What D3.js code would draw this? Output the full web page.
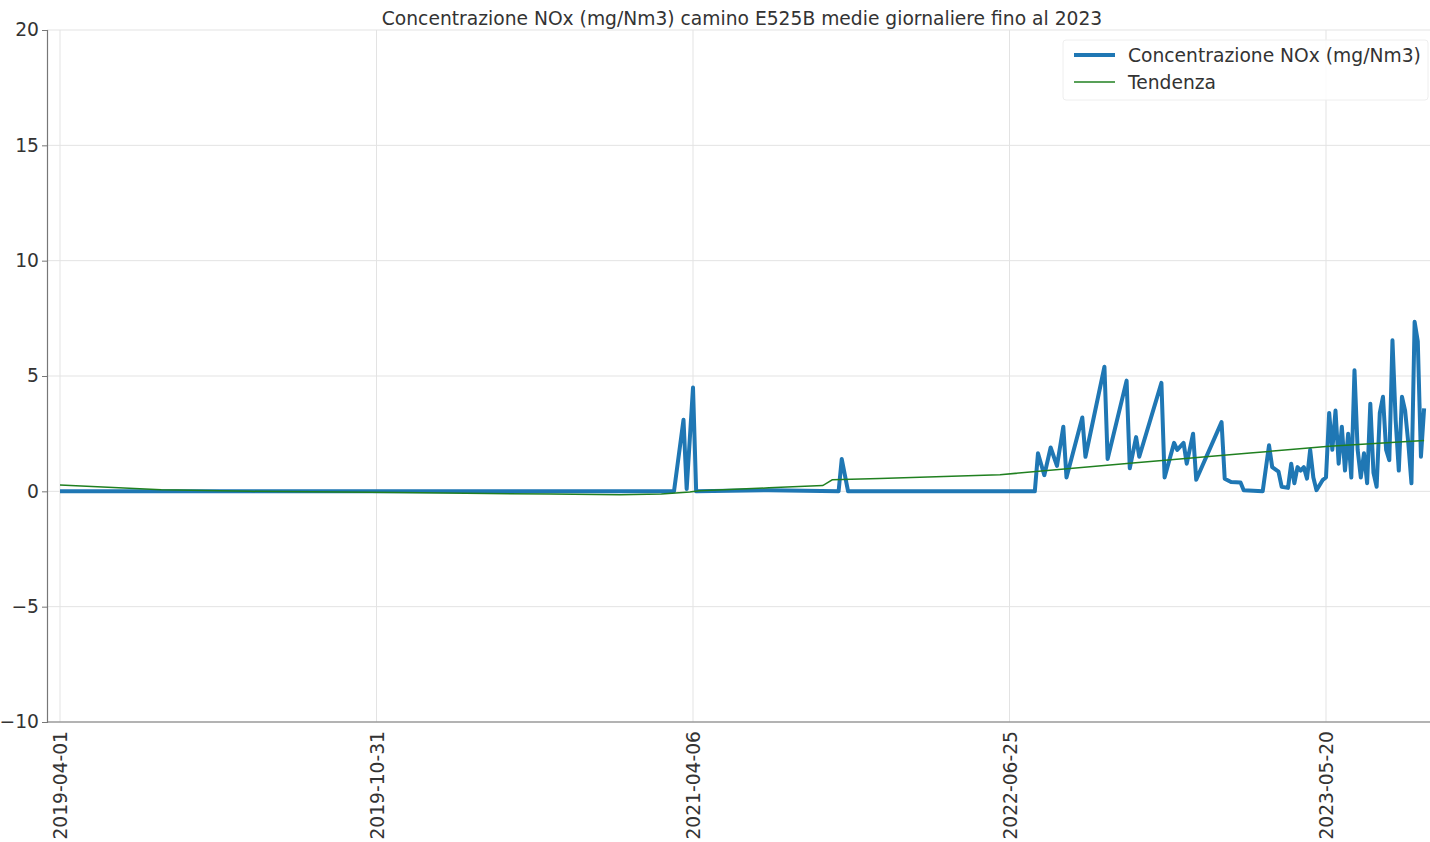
<!DOCTYPE html>
<html><head><meta charset="utf-8">
<script src="https://cdn.jsdelivr.net/npm/d3@7"></script>
<style>body{margin:0;background:#fff;} svg{display:block;font-family:"DejaVu Sans",sans-serif;}</style>
</head><body>
<svg id="c" width="1430" height="842"></svg>
<script>
// x positions are sample indices (one per daily record); labels every 100 records
const tickIdx = [0, 100, 200, 300, 400];
const tickLabels = ["2019-04-01", "2019-10-31", "2021-04-06", "2022-06-25", "2023-05-20"];
const yTicks = [-10, -5, 0, 5, 10, 15, 20];

// NOx series (index, value) vertices
const noxIdx = [0,194,197,198,200,201,224,246,247,249,308,309,311,313,315,317,318,323,324,330,331,337,338,340,341,348,349,352,353,355,356,358,359,367,368,370,373,374,380,382,383,385,386,388,389,390,391,392,393,394,395,396,397,399,400,401,402,403,404,405,406,407,408,409,410,411,412,413,414,415,416,417,418,419,420,421,422,423,424,425,426,427,428,429,430,431];
const noxVal = [0,0,3.1,0.1,4.5,0,0.05,0,1.4,0,0,1.65,0.7,1.9,1.1,2.8,0.6,3.2,1.5,5.4,1.4,4.8,1.0,2.35,1.5,4.7,0.6,2.1,1.8,2.1,1.2,2.5,0.5,3.0,0.55,0.4,0.38,0.05,0,2.0,1.05,0.85,0.2,0.15,1.2,0.35,1.05,0.9,1.05,0.55,1.8,0.6,0.05,0.5,0.6,3.4,1.8,3.5,1.2,2.8,0.9,2.5,0.6,5.25,1.8,0.6,1.65,0.35,3.8,0.8,0.2,3.4,4.1,1.8,1.35,6.55,3.1,0.9,4.1,3.5,2.1,0.35,7.35,6.5,1.5,3.6];

// Trend series
const trendIdx = [0,32,60,107,155,177,190,199,202,224,241,244,259,297,338,376,401,431];
const trendVal = [0.27,0.07,0.0,-0.05,-0.12,-0.15,-0.12,-0.03,0.03,0.15,0.25,0.5,0.56,0.72,1.22,1.66,1.95,2.2];

const titleText = "Concentrazione NOx (mg/Nm3) camino E525B medie giornaliere fino al 2023";
const seriesNames = ["Concentrazione NOx (mg/Nm3)", "Tendenza"];

const FS = 18.7;
const svg = d3.select("#c");
const L = 47, R = 1440, T = 30, B = 722;
const x = d3.scaleLinear().domain([0, 400]).range([60, 1326]);
const y = d3.scaleLinear().domain([-10, 20]).range([B, T]);

// grid
svg.append("g").selectAll("line").data(yTicks).join("line")
  .attr("x1", L).attr("x2", R).attr("y1", d => y(d)).attr("y2", d => y(d))
  .attr("stroke", "#e3e3e3").attr("stroke-width", 1);
svg.append("g").selectAll("line").data(tickIdx).join("line")
  .attr("x1", d => x(d)).attr("x2", d => x(d)).attr("y1", T).attr("y2", B)
  .attr("stroke", "#e3e3e3").attr("stroke-width", 1);

// axes
const yAxis = d3.axisLeft(y).tickValues(yTicks).tickSize(5).tickPadding(3)
  .tickFormat(d => d < 0 ? "\u2212" + Math.abs(d) : d);
const gy = svg.append("g").attr("transform", `translate(${L},0)`).call(yAxis);
gy.select(".domain").attr("stroke", "#777").attr("stroke-width", 1.2);
gy.selectAll(".tick line").attr("stroke", "#777");
gy.selectAll("text").attr("font-size", FS).attr("fill", "#333").attr("font-family", "DejaVu Sans");

svg.append("line").attr("x1", L).attr("x2", R).attr("y1", B).attr("y2", B)
  .attr("stroke", "#777").attr("stroke-width", 1.2);

const xAxis = d3.axisBottom(x).tickValues(tickIdx).tickSize(0).tickPadding(0)
  .tickFormat((d, i) => tickLabels[i]);
const gx = svg.append("g").attr("transform", `translate(0,${B})`).call(xAxis);
gx.select(".domain").remove();
gx.selectAll("text").attr("font-size", FS).attr("fill", "#333").attr("font-family", "DejaVu Sans")
  .attr("transform", "rotate(-90)").attr("text-anchor", "end")
  .attr("x", -9).attr("y", 0).attr("dy", "0.35em");

// title
svg.append("text").attr("x", 742).attr("y", 25).attr("text-anchor", "middle")
  .attr("font-size", FS).attr("fill", "#333").text(titleText);

// lines
const clip = svg.append("clipPath").attr("id", "clp").append("rect")
  .attr("x", L).attr("y", T).attr("width", R - L).attr("height", B - T);
const noxData = noxIdx.map((d, i) => [d, noxVal[i]]);
const trendData = trendIdx.map((d, i) => [d, trendVal[i]]);
const line = d3.line().x(d => x(d[0])).y(d => y(d[1]));
svg.append("path").datum(noxData).attr("d", line).attr("fill", "none")
  .attr("stroke", "#1f77b4").attr("stroke-width", 4).attr("stroke-linejoin", "round")
  .attr("clip-path", "url(#clp)");
svg.append("path").datum(trendData).attr("d", line).attr("fill", "none")
  .attr("stroke", "#208020").attr("stroke-width", 1.5).attr("clip-path", "url(#clp)");

// legend
const lg = svg.append("g");
lg.append("rect").attr("x", 1063).attr("y", 40).attr("width", 365).attr("height", 60)
  .attr("rx", 3).attr("fill", "#fff").attr("fill-opacity", 0.85).attr("stroke", "#eee");
lg.append("line").attr("x1", 1074).attr("x2", 1115).attr("y1", 55).attr("y2", 55)
  .attr("stroke", "#1f77b4").attr("stroke-width", 4);
lg.append("line").attr("x1", 1074).attr("x2", 1115).attr("y1", 82).attr("y2", 82)
  .attr("stroke", "#208020").attr("stroke-width", 1.5);
lg.selectAll("text").data(seriesNames).join("text")
  .attr("x", 1128).attr("y", (d, i) => 55 + i * 27).attr("dy", "0.35em")
  .attr("font-size", FS).attr("fill", "#333").text(d => d);
</script>
</body></html>
